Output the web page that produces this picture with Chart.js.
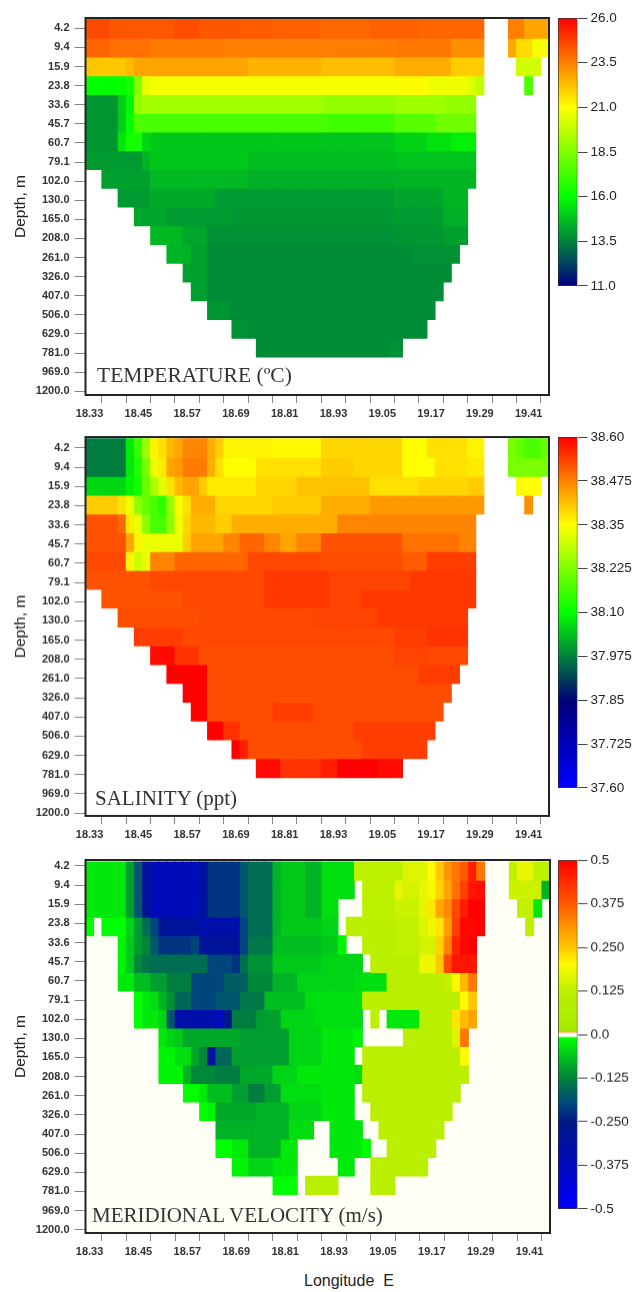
<!DOCTYPE html>
<html>
<head>
<meta charset="utf-8">
<script src="https://cdn.jsdelivr.net/npm/chart.js@4/dist/chart.umd.min.js"></script>
<style>
	html, body { margin: 0; padding: 0; background: #fff; }
	#page { position: relative; width: 635px; height: 1292px; overflow: hidden; }
	#page canvas { position: absolute; }
	.caption { position: absolute; font-family: "Liberation Serif", serif; color: #333; line-height: 1; white-space: nowrap; }
	#lonTitle { position: absolute; left: 304px; top: 1272px; font: 16px "Liberation Sans", sans-serif; color: #222; white-space: pre; }
</style>
</head>
<body>
<div id="page">
	<div id="lonTitle">Longitude  E</div>
</div>
<script>
const _ = null;

const longitudes = ["18.33","18.35","18.37","18.39","18.41","18.43","18.45","18.47","18.49","18.51","18.53","18.55","18.57","18.59","18.61","18.63","18.65","18.67","18.69","18.71","18.73","18.75","18.77","18.79","18.81","18.83","18.85","18.87","18.89","18.91","18.93","18.95","18.97","18.99","19.01","19.03","19.05","19.07","19.09","19.11","19.13","19.15","19.17","19.19","19.21","19.23","19.25","19.27","19.29","19.31","19.33","19.35","19.37","19.39","19.41","19.43","19.45"];
const depths = ["4.2","9.4","15.9","23.8","33.6","45.7","60.7","79.1","102.0","130.0","165.0","208.0","261.0","326.0","407.0","506.0","629.0","781.0","969.0","1200.0"];

const temperature = [
	[24.6,3,24.3,8,24.5,3,24.3,5,24.2,4,24.1,6,23.95,6,24.1,6,24.0,8,_,3,23.5,2,22.8,3],
	[24.05,3,23.8,5,23.6,9,23.5,12,23.55,9,23.65,7,23.2,4,_,3,22.7,1,21.7,2,20.8,2],
	[22.1,5,22.4,1,22.8,14,22.5,9,22.3,9,22.6,7,22.0,4,_,4,20.1,3],
	[16,5,16.4,1,18.5,1,20.5,1,20.8,31,21.1,3,20.7,5,20.4,1,19.8,1,_,5,17.5,1],
	[13.9,4,15,1,15.8,1,19.0,1,19.2,22,18.9,9,19.1,6,18.9,4],
	[13.9,4,15,1,16,1,17.5,1,17.4,23,17.2,8,17.7,5,18.2,5],
	[13.9,4,15.5,1,16.4,2,15.2,1,14.9,21,14.8,9,15.1,4,15.4,3,15.7,3],
	[14.0,7,14.5,1,14.9,12,14.7,18,14.8,10],
	[_,2,14.1,6,14.6,12,14.4,18,14.5,10],
	[_,4,14.0,4,14.3,8,14.0,22,14.15,6,14.5,3],
	[_,6,14.2,4,14.0,8,13.9,20,14.0,6,14.4,3],
	[_,8,14.6,4,14.2,3,13.8,23,13.9,6,14.1,3],
	[_,10,14.5,3,14.1,2,13.7,25,13.8,6],
	[_,12,14.1,3,13.7,30],
	[_,13,14.1,2,13.7,29],
	[_,15,13.9,3,13.7,25],
	[_,18,13.8,2,13.7,22],
	[_,21,13.7,16,13.8,2]
];
const salinity = [
	[37.97,5,38.08,1,38.15,1,38.25,1,38.36,1,38.38,1,38.42,1,38.44,1,38.47,3,38.43,1,38.40,1,38.36,6,38.355,6,38.39,10,38.35,3,38.38,5,38.36,2,_,3,38.22,1,38.2,1,38.17,2,38.2,1],
	[37.97,5,38.08,1,38.13,1,38.22,1,38.33,1,38.37,1,38.44,1,38.45,1,38.48,3,38.43,1,38.38,1,38.35,4,38.38,8,38.40,4,38.39,6,38.35,4,38.38,4,38.37,2,_,3,38.22,5],
	[38.06,5,38.09,1,38.12,1,38.2,1,38.27,1,38.32,1,38.38,1,38.42,1,38.44,2,38.40,1,38.37,6,38.39,5,38.41,9,38.38,6,38.39,6,38.40,2,_,4,38.34,1,38.35,2],
	[38.40,4,38.38,1,38.33,1,38.24,1,38.2,1,38.17,1,38.14,1,38.25,1,38.34,1,38.38,1,38.43,3,38.39,7,38.40,6,38.43,6,38.45,14,_,5,38.46,1],
	[38.52,4,38.5,1,38.37,1,38.33,1,38.24,1,38.17,2,38.24,1,38.33,1,38.39,1,38.42,3,38.40,2,38.43,13,38.47,17],
	[38.52,5,38.44,1,38.36,1,38.33,5,38.4,1,38.44,4,38.47,2,38.5,3,38.47,2,38.44,2,38.47,3,38.52,10,38.49,7,38.47,2],
	[38.53,5,38.36,1,38.3,1,38.33,1,38.47,3,38.5,9,38.53,9,38.525,10,38.51,3,38.54,6],
	[38.52,8,38.53,14,38.545,8,38.535,10,38.545,8],
	[_,2,38.52,10,38.53,10,38.545,8,38.535,4,38.545,14],
	[_,4,38.525,10,38.53,14,38.535,8,38.545,11],
	[_,6,38.54,6,38.53,26,38.54,4,38.55,5],
	[_,8,38.59,3,38.55,3,38.525,24,38.535,4,38.53,5],
	[_,10,38.6,5,38.525,26,38.54,5],
	[_,12,38.6,3,38.525,30],
	[_,13,38.6,2,38.525,8,38.54,5,38.525,16],
	[_,15,38.6,2,38.55,2,38.525,14,38.54,10],
	[_,18,38.6,1,38.57,1,38.525,14,38.54,8],
	[_,21,38.59,3,38.55,5,38.57,2,38.6,5,38.59,3]
];
const velocity = [
	[-.03,5,-.1,1,-.18,1,-.3,1,-.36,6,-.3,1,-.22,4,-.18,1,-.15,3,-.08,1,-.06,3,-.08,2,-.04,4,.12,6,.16,3,.2,1,.25,1,.31,1,.34,1,.375,1,.46,1,.34,1,_,3,.13,1,.17,2,.12,2],
	[-.03,5,-.1,1,-.18,1,-.3,1,-.36,6,-.3,1,-.22,4,-.18,1,-.15,3,-.08,1,-.06,3,-.08,2,-.04,4,_,1,.12,4,.17,1,.15,2,.17,1,.19,1,.24,1,.29,1,.35,1,.41,1,.47,1,.48,1,_,3,.14,4,-.08,1],
	[-.03,5,-.1,1,-.18,1,-.28,1,-.36,6,-.3,1,-.22,4,-.18,1,-.15,3,-.08,1,-.06,3,-.08,2,-.04,2,_,3,.12,4,.14,3,.17,1,.22,1,.29,1,.32,1,.4,1,.46,1,.5,2,_,4,.13,2,-.03,1],
	[-.01,1,_,1,-.01,3,-.05,1,-.1,1,-.15,1,-.2,1,-.28,1,-.3,4,-.33,5,-.2,1,-.15,3,-.08,1,-.06,5,-.05,2,_,1,.11,6,.13,3,.16,1,.18,1,.22,1,.3,1,.41,1,.49,2,.5,1,_,5,.12,1],
	[_,4,-.02,1,-.06,1,-.1,1,-.12,1,-.18,1,-.22,4,-.2,1,-.29,5,-.2,1,-.14,3,-.07,6,-.06,2,-.02,1,_,2,.11,4,.13,3,.15,2,.24,1,.33,1,.45,1,.49,1,.5,1],
	[_,4,-.02,1,-.06,1,-.12,1,-.14,1,-.15,7,-.2,3,-.22,1,-.15,1,-.11,3,-.06,6,-.05,5,_,1,.11,6,.18,2,.25,1,.4,1,.47,3],
	[_,4,-.03,2,-.07,2,-.1,2,-.13,3,-.2,4,-.17,3,-.12,3,-.08,3,-.05,7,-.04,4,.11,7,.13,1,.19,1,.27,1,.34,1],
	[_,6,-.01,1,-.03,1,-.04,1,-.08,1,-.11,1,-.16,2,-.2,3,-.18,3,-.14,3,-.07,5,-.04,7,.11,12,.2,1,.25,1],
	[_,6,-.01,1,-.03,2,-.05,1,-.18,1,-.33,5,-.37,1,-.25,1,-.13,3,-.1,3,-.05,4,-.04,6,_,1,.12,1,_,1,-.03,4,.11,4,.22,1,.26,1,.29,1],
	[_,9,-.03,1,-.05,1,-.06,1,-.09,7,-.1,6,-.05,4,-.03,4,-.02,1,_,5,.11,6,.16,1,.34,1],
	[_,9,-.02,2,-.04,2,-.09,1,-.12,1,-.3,1,-.16,2,-.1,7,-.05,4,-.03,4,_,1,.11,12,.2,1],
	[_,9,-.02,3,-.08,1,-.12,3,-.13,3,-.09,4,-.05,3,-.03,7,-.04,1,.11,13],
	[_,12,-.01,2,-.03,1,-.07,3,-.1,2,-.13,2,-.1,2,-.04,5,-.03,4,_,1,.11,12],
	[_,14,-.01,1,-.02,1,-.09,5,-.08,4,-.05,4,-.03,4,_,2,.11,10],
	[_,16,-.08,9,-.04,3,_,2,-.03,4,_,2,.11,8],
	[_,16,-.01,2,-.03,2,-.08,4,-.03,2,_,4,-.03,4,-.01,1,_,2,.11,6],
	[_,18,-.02,2,-.05,3,-.03,3,_,5,-.03,2,_,2,.11,7],
	[_,23,-.01,3,_,1,.1,4,_,4,.11,3]
];

const tempTicks = [26, 23.5, 21, 18.5, 16, 13.5, 11];
const tempTickLabels = ["26.0","23.5","21.0","18.5","16.0","13.5","11.0"];
const salTicks = [38.6, 38.475, 38.35, 38.225, 38.1, 37.975, 37.85, 37.725, 37.6];
const salTickLabels = ["38.60","38.475","38.35","38.225","38.10","37.975","37.85","37.725","37.60"];
const velTicks = [.5, .375, .25, .125, 0, -.125, -.25, -.375, -.5];
const velTickLabels = ["0.5","0.375","0.250","0.125","0.0","-0.125","-0.250","-0.375","-0.5"];

const tempStops = [[11,[0,0,130]],[13.5,[0,130,60]],[16,[0,255,0]],[21,[255,255,0]],[23.5,[255,128,0]],[26,[255,0,0]]];
const salStops = [[37.6,[0,0,255]],[37.85,[0,0,120]],[37.975,[0,130,60]],[38.1,[0,255,0]],[38.35,[255,255,0]],[38.475,[255,128,0]],[38.6,[255,0,0]]];
const velStops = [[-.5,[0,0,255]],[-.375,[0,10,190]],[-.25,[0,25,135]],[-.2,[0,70,125]],[-.125,[0,130,60]],[-.01,[0,255,0]],[-.005,[255,255,255]],[.003,[255,255,255]],[.007,[255,170,60]],[.012,[165,235,0]],[.125,[190,240,0]],[.2,[255,250,0]],[.25,[255,200,0]],[.375,[255,90,0]],[.5,[255,0,0]]];

function expandRow(runs) {
	var row = [];
	for (var i = 0; i < runs.length; i += 2) {
		for (var k = 0; k < runs[i + 1]; k++) row.push(runs[i]);
	}
	while (row.length < longitudes.length) row.push(null);
	return row;
}

function colorFor(stops, v) {
	if (v <= stops[0][0]) return "rgb(" + stops[0][1].join(",") + ")";
	for (var i = 1; i < stops.length; i++) {
		if (v <= stops[i][0]) {
			var t = (v - stops[i - 1][0]) / (stops[i][0] - stops[i - 1][0]);
			var a = stops[i - 1][1], b = stops[i][1];
			return "rgb(" + Math.round(a[0] + (b[0] - a[0]) * t) + "," + Math.round(a[1] + (b[1] - a[1]) * t) + "," + Math.round(a[2] + (b[2] - a[2]) * t) + ")";
		}
	}
	return "rgb(" + stops[stops.length - 1][1].join(",") + ")";
}

function addCanvas(left, top, width, height) {
	var c = document.createElement("canvas");
	c.width = width;
	c.height = height;
	c.style.left = left + "px";
	c.style.top = top + "px";
	c.style.width = width + "px";
	c.style.height = height + "px";
	document.getElementById("page").appendChild(c);
	return c.getContext("2d");
}

// panel background and the frame round the plot
const framePlugin = {
	id: "frame",
	beforeDatasetsDraw(chart, args, opts) {
		const a = chart.chartArea;
		chart.ctx.fillStyle = opts.fill;
		chart.ctx.fillRect(a.left, a.top, a.width, a.height);
	},
	afterDraw(chart) {
		const a = chart.chartArea;
		chart.ctx.strokeStyle = "#222";
		chart.ctx.lineWidth = 2;
		chart.ctx.strokeRect(a.left, a.top, a.width, a.height);
	}
};

function drawPanel(p) {
	const headroom = 10, xAxisH = 32, leftW = 85.5;
	const ctx = addCanvas(0, p.top - headroom, 552, p.bottom - p.top + headroom + xAxisH);
	const rows = p.rows.map(expandRow);
	const datasets = rows.map(function (row, r) {
		return {
			data: row.map(v => v === null ? null : [r, r + 1]),
			backgroundColor: row.map(v => v === null ? "rgba(0,0,0,0)" : colorFor(p.stops, v)),
			barPercentage: 1,
			categoryPercentage: 1,
			grouped: false,
			borderSkipped: false,
			borderWidth: 0,
			inflateAmount: 0.4
		};
	});
	const depthPos = depths.map((d, i) => (p.tick0 + i * p.tickStep - p.rowTop) / p.rowStep);

	new Chart(ctx, {
		type: "bar",
		data: { labels: longitudes, datasets: datasets },
		plugins: [framePlugin],
		options: {
			responsive: false,
			animation: false,
			events: [],
			layout: { padding: { top: headroom, right: 552 - p.right, left: 0, bottom: 0 } },
			plugins: { legend: { display: false }, tooltip: { enabled: false }, frame: { fill: p.fill } },
			scales: {
				x: {
					afterFit: s => { s.height = xAxisH; s.paddingLeft = 0; s.paddingRight = 0; },
					afterBuildTicks: s => { s.ticks = s.ticks.filter(t => t.value % 3 === 0); },
					grid: { drawOnChartArea: false, tickLength: 8, tickColor: "#888" },
					border: { display: false },
					ticks: {
						autoSkip: false,
						maxRotation: 0,
						padding: 4,
						color: "#333",
						font: { family: "Liberation Sans", size: 11, weight: "bold" },
						callback: function (value, index) { return index % 2 === 0 ? this.getLabelForValue(value) : ""; }
					}
				},
				y: {
					reverse: true,
					min: (p.top - p.rowTop) / p.rowStep,
					max: (p.bottom - p.rowTop) / p.rowStep,
					afterFit: s => { s.width = leftW; s.paddingTop = 0; s.paddingBottom = 0; },
					afterBuildTicks: s => { s.ticks = depthPos.map(v => ({ value: v })); },
					title: {
						display: true,
						text: "Depth, m",
						color: "#222",
						font: { family: "Liberation Sans", size: 15.5 },
						padding: { top: 11, bottom: 0 }
					},
					grid: { drawOnChartArea: false, tickLength: 11, tickColor: "#888" },
					border: { display: false },
					ticks: {
						autoSkip: false,
						padding: 5,
						color: "#333",
						font: { family: "Liberation Sans", size: 11, weight: "bold" },
						callback: (value, index) => depths[index]
					}
				}
			}
		}
	});

	const cap = document.createElement("div");
	cap.className = "caption";
	cap.textContent = p.caption;
	cap.style.left = p.capX + "px";
	cap.style.top = p.capY + "px";
	cap.style.fontSize = p.capSize + "px";
	document.getElementById("page").appendChild(cap);
}

function drawColorBar(b) {
	const pad = 10;
	const ctx = addCanvas(558, b.top - pad, 77, b.bottom - b.top + pad * 2);
	const lo = b.ticks[b.ticks.length - 1], hi = b.ticks[0];
	new Chart(ctx, {
		type: "bar",
		data: {
			labels: [""],
			datasets: [{
				data: [[lo, hi]],
				barPercentage: 1,
				categoryPercentage: 1,
				borderSkipped: false,
				borderWidth: 1,
				borderColor: "#333",
				backgroundColor: function (c) {
					const area = c.chart.chartArea;
					if (!area) return "#000";
					const g = c.chart.ctx.createLinearGradient(0, area.bottom, 0, area.top);
					b.stops.forEach(s => g.addColorStop((s[0] - lo) / (hi - lo), "rgb(" + s[1].join(",") + ")"));
					return g;
				}
			}]
		},
		options: {
			responsive: false,
			animation: false,
			events: [],
			layout: { padding: { top: pad, bottom: pad } },
			plugins: { legend: { display: false }, tooltip: { enabled: false } },
			scales: {
				x: { display: false },
				y: {
					position: "right",
					min: lo,
					max: hi,
					afterFit: s => { s.width = 57.5; },
					afterBuildTicks: s => { s.ticks = b.ticks.map(v => ({ value: v })); },
					grid: { drawOnChartArea: false, tickLength: 10, tickColor: "#444" },
					border: { display: false },
					ticks: {
						autoSkip: false,
						padding: 3,
						color: "#222",
						font: { family: "Liberation Sans", size: 13.5 },
						callback: (value, index) => b.labels[index]
					}
				}
			}
		}
	});
}

drawPanel({ rows: temperature, stops: tempStops, fill: "#fff", top: 18, bottom: 395, right: 549, rowTop: 19.5, rowStep: 18.75, tick0: 28.3, tickStep: 19.1, caption: "TEMPERATURE (ºC)", capX: 97, capY: 365, capSize: 21.5 });
drawPanel({ rows: salinity, stops: salStops, fill: "#fff", top: 437.3, bottom: 815.7, right: 549, rowTop: 439, rowStep: 18.8, tick0: 448.3, tickStep: 19.18, caption: "SALINITY (ppt)", capX: 95, capY: 788, capSize: 21 });
drawPanel({ rows: velocity, stops: velStops, fill: "#fffff6", top: 860, bottom: 1233.3, right: 550, rowTop: 861.8, rowStep: 18.5, tick0: 866, tickStep: 19.16, caption: "MERIDIONAL VELOCITY (m/s)", capX: 92, capY: 1205, capSize: 21 });

drawColorBar({ ticks: tempTicks, labels: tempTickLabels, stops: tempStops, top: 16.5, bottom: 287 });
drawColorBar({ ticks: salTicks, labels: salTickLabels, stops: salStops, top: 436, bottom: 789 });
drawColorBar({ ticks: velTicks, labels: velTickLabels, stops: velStops, top: 859.3, bottom: 1210 });
</script>
</body>
</html>
